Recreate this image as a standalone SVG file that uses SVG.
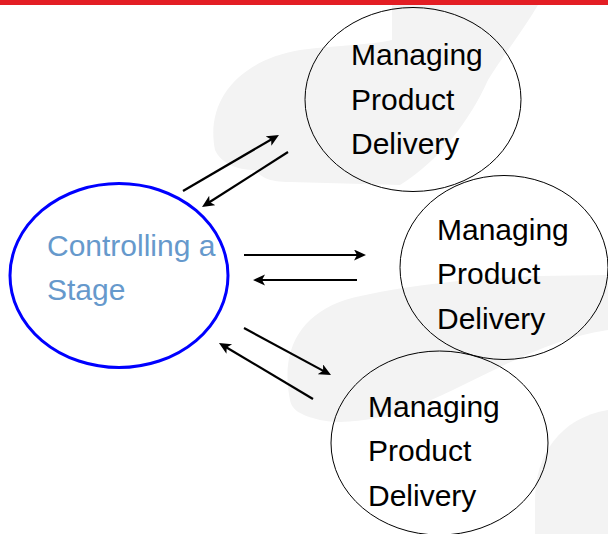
<svg xmlns="http://www.w3.org/2000/svg" width="608" height="534" viewBox="0 0 608 534">
  <style>
    .wm { fill: #f3f3f3; stroke: none; }
    .mpd { fill: none; stroke: #000000; stroke-width: 1; }
    .cs { fill: none; stroke: #0000ff; stroke-width: 3; }
    .lbl { font-family: "Liberation Sans", Arial, sans-serif; font-size: 30px; fill: #000000; }
    .lblb { font-family: "Liberation Sans", Arial, sans-serif; font-size: 30px; fill: #6699cc; }
    .conn line { stroke: #000000; stroke-width: 2.2; marker-end: url(#arr); }
  </style>
  <defs>
    <marker id="arr" markerUnits="userSpaceOnUse" markerWidth="14" markerHeight="12" refX="8" refY="5.5" orient="auto">
      <path d="M0,0 L12,5.5 L0,11 L3,5.5 Z" fill="#000000"/>
    </marker>
  </defs>
  <rect x="0" y="0" width="608" height="534" fill="#ffffff"/>
  <g id="watermark">
    <path class="wm" d="M215,150 C205,100 240,60 300,50 C340,45 370,45 392,40 L392,5 L538,5 C520,35 500,60 488,80 C470,120 440,160 400,185 L290,182 C270,182 262,178 255,170 C240,170 222,165 215,150 Z"/>
    <path class="wm" d="M290,400 C280,350 300,315 345,300 C400,285 480,278 540,276 L608,275 L608,330 C540,340 480,380 420,405 C380,420 345,425 320,420 C300,415 292,410 290,400 Z"/>
    <path class="wm" d="M608,410 C560,418 535,455 535,500 L535,534 L608,534 Z"/>
  </g>
  <rect x="0" y="0" width="608" height="5" fill="#e31e24"/>
  <g id="controlling-a-stage">
    <ellipse class="cs" cx="119" cy="275.5" rx="109" ry="92"/>
    <text class="lblb" x="47" y="256">Controlling a</text>
    <text class="lblb" x="47" y="300">Stage</text>
  </g>
  <g id="mpd-1">
    <ellipse class="mpd" cx="413" cy="99.5" rx="108" ry="92"/>
    <text class="lbl" x="351" y="64.5">Managing</text>
    <text class="lbl" x="351" y="109.5">Product</text>
    <text class="lbl" x="351" y="154">Delivery</text>
  </g>
  <g id="mpd-2">
    <ellipse class="mpd" cx="504" cy="267.5" rx="104" ry="92"/>
    <text class="lbl" x="437" y="239.5">Managing</text>
    <text class="lbl" x="437" y="284">Product</text>
    <text class="lbl" x="437" y="328.5">Delivery</text>
  </g>
  <g id="mpd-3">
    <ellipse class="mpd" cx="439.5" cy="443" rx="108.5" ry="92"/>
    <text class="lbl" x="368" y="416.5">Managing</text>
    <text class="lbl" x="368" y="461">Product</text>
    <text class="lbl" x="368" y="506">Delivery</text>
  </g>
  <g id="connectors" class="conn">
    <line x1="183" y1="191" x2="275.5" y2="137"/>
    <line x1="288" y1="152" x2="205.4" y2="204.8"/>
    <line x1="244" y1="255" x2="362" y2="255"/>
    <line x1="357" y1="280" x2="257" y2="280"/>
    <line x1="244" y1="328" x2="327.5" y2="373.1"/>
    <line x1="313" y1="399" x2="222.4" y2="345"/>
  </g>
</svg>
